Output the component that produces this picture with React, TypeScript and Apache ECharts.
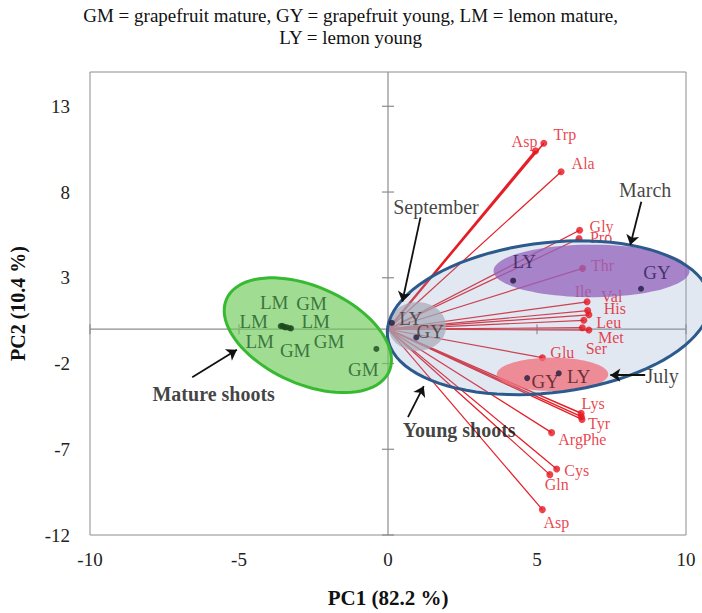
import React, { useEffect, useRef } from "react";
import * as echarts from "echarts";

const FONT = "Liberation Serif, Times New Roman, serif";

// Title lines
const titleLines = ["GM = grapefruit mature, GY = grapefruit young, LM = lemon mature,", "LY = lemon young"];

// Axis settings
const X_MIN = -10, X_MAX = 10, X_INT = 5;
const Y_MIN = -12, Y_MAX = 15, Y_INT = 5;
const xTicks = [-10, -5, 0, 5, 10];
const yTicks = [-12, -7, -2, 3, 8, 13];

// Loadings (amino acids)
const loadNames = ["Asp", "Trp", "Ala", "Gly", "Pro", "Thr", "Ile", "Val", "His", "Leu", "Ser", "Met", "Glu", "Lys", "Phe", "Tyr", "Arg", "Cys", "Gln", "Asp"];
const loadPC1 = [4.95, 5.23, 5.81, 6.43, 6.41, 6.53, 6.68, 6.70, 6.74, 6.57, 6.52, 6.74, 5.18, 6.48, 6.49, 6.51, 5.49, 5.66, 5.43, 5.18];
const loadPC2 = [10.40, 10.84, 9.18, 5.77, 5.29, 3.55, 1.60, 1.09, 0.84, 0.52, 0.09, -0.05, -1.66, -4.90, -5.10, -5.26, -6.03, -8.15, -8.48, -10.52];
const loadLabelOffsets = [[-11, -9], [21, -9], [22, -8], [22, -4], [22, -1], [20, -3], [-4, -10], [24, -14], [26, -6], [25, 2], [14, 21], [22, 7], [20, -5], [12, -10], [13, 23], [17, 4], [19, 7], [20, 2], [7, 10], [14, 13]];
const loadLineWidths = [2.2, 1.6, 1.2, 1.2, 1.2, 1.2, 1.2, 1.2, 1.2, 1.2, 1.2, 1.2, 1.2, 1.4, 1.4, 1.4, 1.2, 1.2, 1.2, 1.2];

// Scores: mature shoots
const matureNames = ["LM", "GM", "LM", "LM", "LM", "GM", "GM", "GM"];
const maturePC1 = [-3.55, -3.40, -3.60, -3.30, -3.50, -3.45, -3.25, -0.39];
const maturePC2 = [0.20, 0.12, 0.18, 0.06, 0.15, 0.10, 0.05, -1.15];
const matureLabelOffsets = [[-8, -23], [25, -24], [-27, -5], [26, -7], [-24, 15], [10, 23], [38, 13], [-13, 21]];

// Scores: young shoots
const youngNames = ["LY", "GY", "LY", "GY", "GY", "LY"];
const youngPC1 = [4.20, 8.49, 0.13, 0.95, 4.67, 5.73];
const youngPC2 = [2.83, 2.36, 0.37, -0.48, -2.85, -2.57];
const youngLabelOffsets = [[11, -19], [16, -16], [19, -4], [14, -6], [18, 3], [20, 3]];
const youngLabelColors = ["#2a1d55", "#2a1d55", "#333333", "#333333", "#4a1418", "#4a1418"];

// Ellipses: center, conjugate semi-diameters (data units)
// 0 blue (young), 1 green (mature), 2 gray (September), 3 purple (March), 4 red (July)
const ellipseCenters = [[5.39, 0.67], [-2.69, -0.35], [0.98, 0.16], [6.83, 3.40], [5.52, -2.63]];
const ellipseU = [[5.405, 1.131], [2.716, -2.153], [0.97, 0], [3.29, 0], [1.87, 0]];
const ellipseV = [[0.314, -4.341], [-0.705, -2.563], [0, 1.42], [0, 1.53], [0, 0.97]];
const ellipseFills = ["rgba(138,165,205,0.26)", "rgba(109,201,86,0.65)", "rgba(165,170,182,0.7)", "rgba(147,97,187,0.75)", "rgba(240,110,120,0.75)"];
const ellipseStrokes = ["#2d5a8c", "#37b932", null, null, null];
const baseEllipses = [0, 1];
const overlayEllipses = [2, 3, 4];

// Annotations
const annotText = ["March", "September", "July", "Mature shoots", "Young shoots"];
const annotX = [8.63, 1.61, 9.20, -5.85, 2.39];
const annotY = [8.13, 7.13, -2.70, -3.80, -5.88];
const annotBold = [false, false, false, true, true];
const arrowFrom = [[8.50, 7.43], [1.09, 6.52], [8.63, -2.68], [-6.57, -2.80], [0.67, -5.13]];
const arrowTo = [[8.13, 4.91], [0.48, 1.60], [7.46, -2.68], [-5.07, -1.20], [1.20, -3.32]];

function ellipsePoints(i: number, api: any) {
  const c = ellipseCenters[i], u = ellipseU[i], v = ellipseV[i];
  const pts: number[][] = [];
  const n = 90;
  for (let k = 0; k < n; k++) {
    const t = (k / n) * Math.PI * 2;
    pts.push(api.coord([c[0] + Math.cos(t) * u[0] + Math.sin(t) * v[0], c[1] + Math.cos(t) * u[1] + Math.sin(t) * v[1]]));
  }
  return pts;
}

function fillSeries(indices: number[], z: number) {
  return {
    type: "custom", z, silent: true, clip: false,
    data: indices.map((i) => [ellipseCenters[i][0], ellipseCenters[i][1]]),
    renderItem: (p: any, api: any) => {
      const i = indices[p.dataIndex];
      return { type: "polygon", shape: { points: ellipsePoints(i, api) }, style: { fill: ellipseFills[i], stroke: null } };
    },
  };
}

function buildOption(): any {
  const axisGray = "#8c8c8c";
  return {
    animation: false,
    graphic: titleLines.map((t, i) => ({
      type: "text", left: "center", top: 6 + i * 22, silent: true,
      style: { text: t, fontFamily: FONT, fontSize: 19, fill: "#111" },
    })),
    grid: { left: 87, right: 16, top: 72, bottom: 67, show: true, borderColor: "#8c8c8c", borderWidth: 1, backgroundColor: "#fff" },
    xAxis: {
      type: "value", min: X_MIN, max: X_MAX, interval: X_INT,
      axisLine: { show: false }, axisTick: { show: false }, splitLine: { show: false },
      axisLabel: { fontFamily: FONT, fontSize: 19, color: "#222", margin: 15 },
      name: "PC1 (82.2 %)", nameLocation: "middle", nameGap: 52,
      nameTextStyle: { fontFamily: FONT, fontSize: 21, fontWeight: "bold", color: "#111" },
    },
    yAxis: {
      type: "value", min: Y_MIN, max: Y_MAX, interval: Y_INT,
      axisLine: { show: false }, axisTick: { show: false }, splitLine: { show: false },
      axisLabel: { fontFamily: FONT, fontSize: 19, color: "#222", margin: 20, formatter: (v: number) => (yTicks.indexOf(v) >= 0 ? String(v) : "") },
      name: "PC2 (10.4 %)", nameLocation: "middle", nameGap: 62,
      nameTextStyle: { fontFamily: FONT, fontSize: 20, fontWeight: "bold", color: "#111" },
    },
    series: [
      // central axes with crossing ticks
      {
        type: "custom", z: 0, silent: true, clip: false, data: [[0, 0]],
        renderItem: (_p: any, api: any) => {
          const ch: any[] = [];
          const st = { stroke: axisGray, lineWidth: 1.2 };
          const a = api.coord([0, Y_MAX]), b = api.coord([0, Y_MIN]);
          ch.push({ type: "line", shape: { x1: a[0], y1: a[1], x2: b[0], y2: b[1] }, style: st });
          const c = api.coord([X_MIN, 0]), d = api.coord([X_MAX, 0]);
          ch.push({ type: "line", shape: { x1: c[0], y1: c[1], x2: d[0], y2: d[1] }, style: st });
          yTicks.forEach((t) => {
            const p = api.coord([0, t]);
            ch.push({ type: "line", shape: { x1: p[0] - 6, y1: p[1], x2: p[0] + 6, y2: p[1] }, style: st });
          });
          xTicks.forEach((t) => {
            if (t === 0) return;
            const p = api.coord([t, 0]);
            ch.push({ type: "line", shape: { x1: p[0], y1: p[1] - 5, x2: p[0], y2: p[1] + 5 }, style: st });
          });
          return { type: "group", children: ch };
        },
      },
      // loading vectors
      {
        type: "custom", z: 1, silent: true,
        data: loadNames.map((_n, i) => [loadPC1[i], loadPC2[i]]),
        renderItem: (p: any, api: any) => {
          const o = api.coord([0, 0]);
          const e = api.coord([api.value(0), api.value(1)]);
          return { type: "line", shape: { x1: o[0], y1: o[1], x2: e[0], y2: e[1] }, style: { stroke: "#e41e26", lineWidth: loadLineWidths[p.dataIndex] } };
        },
      },
      // base ellipse fills (young / mature)
      fillSeries(baseEllipses, 2),
      // loading points
      {
        type: "scatter", z: 3, symbolSize: 7, itemStyle: { color: "#e8141e" },
        data: loadNames.map((n, i) => ({ name: n, value: [loadPC1[i], loadPC2[i]], label: { offset: loadLabelOffsets[i] } })),
        label: { show: true, formatter: "{b}", position: "inside", color: "#e4121c", fontFamily: FONT, fontSize: 16 },
      },
      // overlay ellipse fills (months)
      fillSeries(overlayEllipses, 4),
      // ellipse outlines
      {
        type: "custom", z: 5, silent: true, clip: false,
        data: baseEllipses.map((i) => [ellipseCenters[i][0], ellipseCenters[i][1]]),
        renderItem: (p: any, api: any) => {
          const i = baseEllipses[p.dataIndex];
          return { type: "polygon", shape: { points: ellipsePoints(i, api) }, style: { fill: "none", stroke: ellipseStrokes[i], lineWidth: 3 } };
        },
      },
      // mature scores
      {
        type: "scatter", z: 6, symbolSize: 6, itemStyle: { color: "#1b4a1f" },
        data: matureNames.map((n, i) => ({ name: n, value: [maturePC1[i], maturePC2[i]], label: { offset: matureLabelOffsets[i] } })),
        label: { show: true, formatter: "{b}", position: "inside", color: "#1d5a28", fontFamily: FONT, fontSize: 19 },
      },
      // young scores
      {
        type: "scatter", z: 6, symbolSize: 6, itemStyle: { color: "#1e1b3c" },
        data: youngNames.map((n, i) => ({ name: n, value: [youngPC1[i], youngPC2[i]], label: { offset: youngLabelOffsets[i], color: youngLabelColors[i] } })),
        label: { show: true, formatter: "{b}", position: "inside", fontFamily: FONT, fontSize: 19 },
      },
      // arrows
      {
        type: "lines", coordinateSystem: "cartesian2d", z: 7, silent: true,
        symbol: ["none", "arrow"], symbolSize: [0, 10],
        lineStyle: { color: "#111", width: 1.8, opacity: 1 },
        data: arrowFrom.map((f, i) => ({ coords: [f, arrowTo[i]] })),
      },
      // annotation texts
      {
        type: "scatter", z: 7, silent: true, symbolSize: 1, itemStyle: { color: "rgba(0,0,0,0)" },
        data: annotText.map((t, i) => ({ name: t, value: [annotX[i], annotY[i]], label: { fontWeight: annotBold[i] ? "bold" : "normal" } })),
        label: { show: true, formatter: "{b}", position: "inside", color: "#111", fontFamily: FONT, fontSize: 20 },
      },
    ],
  };
}

export default function App() {
  const ref = useRef<HTMLDivElement>(null);
  useEffect(() => {
    if (!ref.current) return;
    const chart = echarts.init(ref.current, null, { renderer: "svg" });
    chart.setOption(buildOption());
    return () => chart.dispose();
  }, []);
  return <div ref={ref} style={{ position: "absolute", left: 0, top: 0, width: 702, height: 613, background: "#fff" }} />;
}
